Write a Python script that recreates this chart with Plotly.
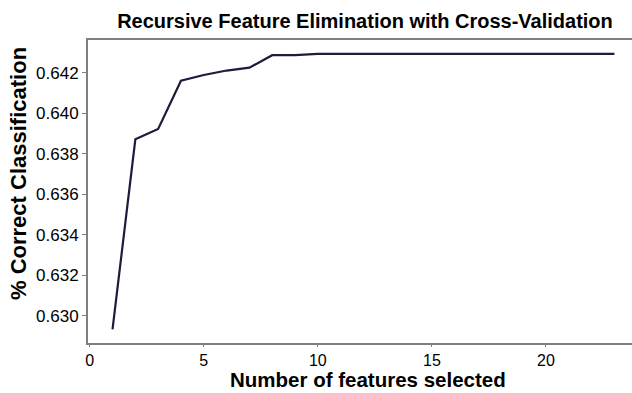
import plotly.graph_objects as go

n_features = list(range(1, 24))
scores = [0.62932, 0.63872, 0.63923, 0.64162, 0.64190, 0.64212, 0.64226,
          0.64288, 0.64288, 0.64294, 0.64294, 0.64294, 0.64294, 0.64294,
          0.64294, 0.64294, 0.64294, 0.64294, 0.64294, 0.64294, 0.64294,
          0.64294, 0.64294]
x_ticks = [0, 5, 10, 15, 20]
y_ticks = [0.630, 0.632, 0.634, 0.636, 0.638, 0.640, 0.642]

fig = go.Figure()
fig.add_trace(go.Scatter(x=n_features, y=scores, mode="lines",
                         line=dict(color="#1c1c3c", width=2.2),
                         showlegend=False, hoverinfo="skip"))

font_family = "Liberation Sans, Arial, Helvetica, sans-serif"
fig.update_layout(
    width=632, height=393,
    margin=dict(l=88, r=0, t=40, b=50),
    plot_bgcolor="white", paper_bgcolor="white",
    font=dict(family=font_family, color="black", size=17),
    title=dict(text="<b>Recursive Feature Elimination with Cross-Validation</b>",
               x=0.5775, xanchor="center", y=0.947, yanchor="middle",
               font=dict(size=20, color="black", family=font_family)),
    xaxis=dict(range=[-0.075, 23.77], tickvals=x_ticks, showgrid=False,
               zeroline=False, showline=True, linecolor="#7f7f7f", linewidth=2,
               mirror=True, ticks="outside", ticklen=2, tickcolor="#7f7f7f",
               tickfont=dict(size=16)),
    yaxis=dict(range=[0.62865, 0.64363], tickvals=y_ticks, tickformat=".3f",
               showgrid=False, zeroline=False, showline=True,
               linecolor="#7f7f7f", linewidth=2, ticks="outside", ticklen=4,
               tickcolor="#7f7f7f", tickfont=dict(size=17)),
)

fig.add_annotation(text="<b>Number of features selected</b>", xref="paper",
                   yref="paper", x=0.5147, y=-0.165, xanchor="center",
                   yanchor="bottom", showarrow=False,
                   font=dict(size=20.5, color="black", family=font_family))
fig.add_annotation(text="<b>% Correct Classification</b>", xref="paper",
                   yref="paper", x=-0.1287, y=0.561, xanchor="center",
                   yanchor="middle", textangle=-90, showarrow=False,
                   font=dict(size=22, color="black", family=font_family))

fig.write_html("out.html")
